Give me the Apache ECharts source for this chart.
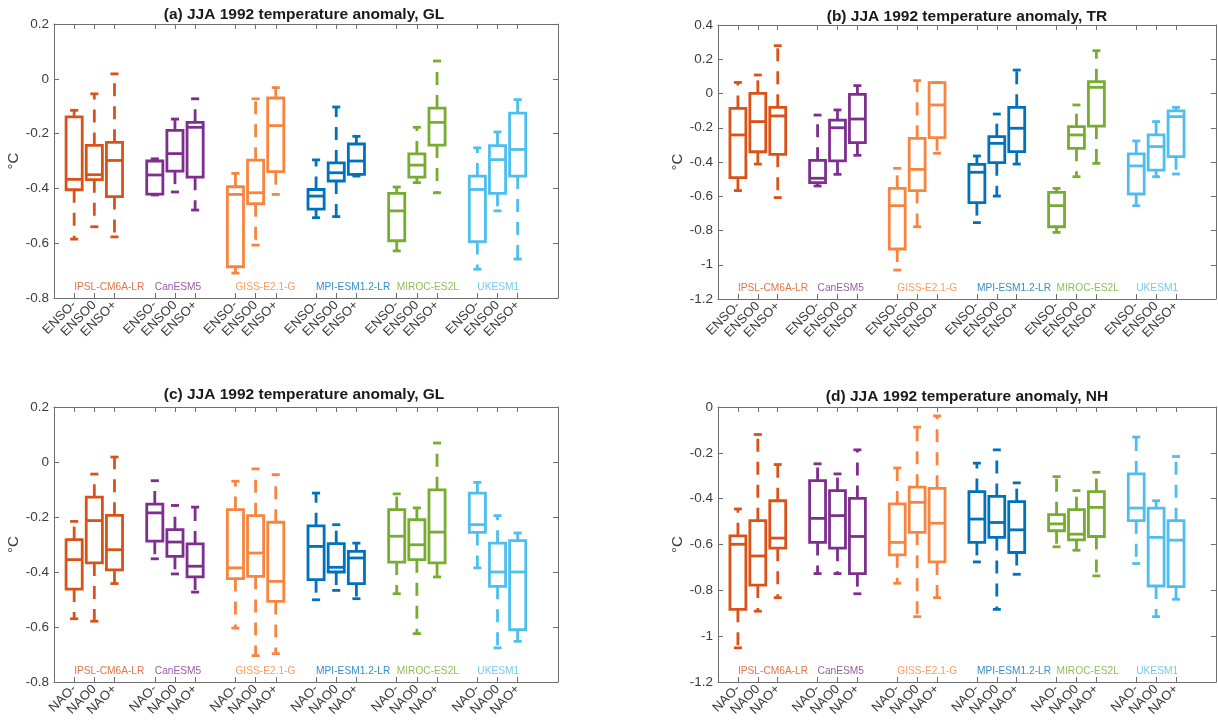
<!DOCTYPE html>
<html>
<head>
<meta charset="utf-8">
<script src="https://cdn.jsdelivr.net/npm/echarts@6/dist/echarts.min.js"></script>
<style>
html,body{margin:0;padding:0;background:#fff;}
#chart{width:1218px;height:723px;}
</style>
</head>
<body>
<div id="chart"></div>
<script>
// ---------------- DATA ----------------
const models = ['IPSL-CM6A-LR', 'CanESM5', 'GISS-E2.1-G', 'MPI-ESM1.2-LR', 'MIROC-ES2L', 'UKESM1'];
const modelColors = ['#D95319', '#7E2F8E', '#F7853F', '#0072BD', '#77AC30', '#4DBEEE'];
const ensoCats = ['ENSO-', 'ENSO0', 'ENSO+'];
const naoCats = ['NAO-', 'NAO0', 'NAO+'];
const panelTitles = [
  '(a) JJA 1992 temperature anomaly, GL',
  '(b) JJA 1992 temperature anomaly, TR',
  '(c) JJA 1992 temperature anomaly, GL',
  '(d) JJA 1992 temperature anomaly, NH'
];
const yTicksA = [-0.8, 0.2];
const yTicksB = [-1.2, 0.4];
const yTicksC = [-0.8, 0.2];
const yTicksD = [-1.2, 0];
// each box: [lower whisker, q1, median, q3, upper whisker]; 3 boxes per model in model order
const boxesA = [
  [-0.585, -0.405, -0.367, -0.139, -0.115], [-0.540, -0.368, -0.350, -0.243, -0.055], [-0.577, -0.430, -0.298, -0.232, 0.018],
  [-0.424, -0.421, -0.351, -0.300, -0.292], [-0.413, -0.337, -0.273, -0.188, -0.147], [-0.479, -0.359, -0.177, -0.159, -0.073],
  [-0.709, -0.686, -0.422, -0.394, -0.345], [-0.607, -0.456, -0.416, -0.297, -0.073], [-0.422, -0.339, -0.171, -0.070, -0.032],
  [-0.507, -0.476, -0.428, -0.404, -0.296], [-0.503, -0.373, -0.343, -0.307, -0.103], [-0.355, -0.349, -0.300, -0.238, -0.210],
  [-0.628, -0.591, -0.482, -0.418, -0.395], [-0.379, -0.359, -0.315, -0.274, -0.177], [-0.416, -0.242, -0.159, -0.107, 0.065],
  [-0.695, -0.594, -0.404, -0.355, -0.252], [-0.482, -0.418, -0.295, -0.244, -0.194], [-0.658, -0.355, -0.258, -0.125, -0.076]
];
const boxesB = [
  [-0.567, -0.491, -0.242, -0.087, 0.065], [-0.412, -0.340, -0.164, 0.001, 0.108], [-0.608, -0.355, -0.131, -0.081, 0.279],
  [-0.540, -0.520, -0.495, -0.390, -0.126], [-0.472, -0.394, -0.200, -0.155, -0.096], [-0.361, -0.287, -0.149, -0.005, 0.046],
  [-1.031, -0.908, -0.655, -0.554, -0.437], [-0.778, -0.567, -0.443, -0.262, 0.075], [-0.349, -0.258, -0.067, 0.063, 0.065],
  [-0.754, -0.637, -0.460, -0.414, -0.365], [-0.599, -0.404, -0.291, -0.252, -0.120], [-0.412, -0.340, -0.203, -0.081, 0.137],
  [-0.811, -0.778, -0.655, -0.577, -0.554], [-0.486, -0.320, -0.242, -0.194, -0.067], [-0.408, -0.190, 0.036, 0.069, 0.250],
  [-0.655, -0.587, -0.423, -0.353, -0.277], [-0.486, -0.447, -0.310, -0.242, -0.164], [-0.470, -0.369, -0.135, -0.102, -0.081]
];
const boxesC = [
  [-0.570, -0.462, -0.355, -0.282, -0.216], [-0.579, -0.367, -0.213, -0.128, -0.044], [-0.442, -0.392, -0.319, -0.194, 0.018],
  [-0.352, -0.288, -0.185, -0.153, -0.068], [-0.407, -0.343, -0.291, -0.246, -0.158], [-0.473, -0.418, -0.379, -0.298, -0.164],
  [-0.604, -0.424, -0.385, -0.173, -0.070], [-0.704, -0.416, -0.331, -0.195, -0.025], [-0.697, -0.507, -0.434, -0.219, -0.046],
  [-0.501, -0.428, -0.307, -0.232, -0.113], [-0.467, -0.400, -0.383, -0.297, -0.228], [-0.497, -0.442, -0.349, -0.325, -0.295],
  [-0.479, -0.364, -0.270, -0.173, -0.116], [-0.624, -0.355, -0.301, -0.210, -0.167], [-0.418, -0.367, -0.255, -0.101, 0.069],
  [-0.385, -0.256, -0.228, -0.113, -0.074], [-0.676, -0.452, -0.400, -0.295, -0.195], [-0.652, -0.610, -0.400, -0.286, -0.258]
];
const boxesD = [
  [-1.051, -0.883, -0.599, -0.562, -0.445], [-0.891, -0.777, -0.650, -0.496, -0.120], [-0.832, -0.616, -0.572, -0.409, -0.251],
  [-0.727, -0.591, -0.486, -0.321, -0.248], [-0.727, -0.616, -0.474, -0.365, -0.292], [-0.815, -0.727, -0.565, -0.399, -0.187],
  [-0.769, -0.645, -0.591, -0.423, -0.266], [-0.915, -0.547, -0.416, -0.350, -0.088], [-0.832, -0.676, -0.507, -0.355, -0.039],
  [-0.676, -0.591, -0.489, -0.369, -0.245], [-0.883, -0.569, -0.504, -0.390, -0.187], [-0.730, -0.635, -0.536, -0.413, -0.331],
  [-0.610, -0.540, -0.510, -0.470, -0.304], [-0.625, -0.580, -0.555, -0.448, -0.365], [-0.737, -0.565, -0.438, -0.369, -0.285],
  [-0.683, -0.496, -0.441, -0.292, -0.131], [-0.915, -0.781, -0.569, -0.441, -0.409], [-0.839, -0.784, -0.581, -0.496, -0.216]
];

// ---------------- LAYOUT / STYLE ----------------
const grids = [
  {left: 54, top: 24, width: 504, height: 274},
  {left: 718, top: 25, width: 504, height: 274},
  {left: 54, top: 407, width: 504, height: 275},
  {left: 718, top: 407, width: 504, height: 275}
];
const titleCenters = [304, 967, 304, 967];
const titleTops = [2, 4, 382, 384];
const yNameGaps = [21, 26, 20, 26];
const modelLabelFrac = 0.04; // model name placed this fraction of the y-range above the bottom
const axisColor = '#6e6e6e';
const textColor = '#3c3c3c';
const FONT = 'Liberation Sans, Arial, Helvetica, sans-serif';

function buildCategories(cats) {
  const out = [''];
  models.forEach(() => { cats.forEach(c => out.push(c)); out.push(''); });
  out.push('');
  return out; // 26 slots
}
function boxIndex(k) { // k-th box (0..17) -> category slot
  const g = Math.floor(k / 3), j = k % 3;
  return 1 + 4 * g + j;
}

function renderBox(params, api) {
  const xi = api.value(0);
  const lo = api.value(1), q1 = api.value(2), med = api.value(3), q3 = api.value(4), hi = api.value(5);
  const color = modelColors[api.value(6)];
  const bw = api.size([1, 0])[0];
  const cx = api.coord([xi, med])[0];
  const y = v => api.coord([xi, v])[1];
  const hw = bw * 0.4, cw = bw * 0.2, lw = 2.8;
  const solid = {stroke: color, lineWidth: lw, fill: null};
  const dashed = {stroke: color, lineWidth: lw, lineDash: [13, 10], fill: null};
  const children = [];
  if (hi > q3) children.push({type: 'line', shape: {x1: cx, y1: y(q3), x2: cx, y2: y(hi)}, style: dashed});
  if (lo < q1) children.push({type: 'line', shape: {x1: cx, y1: y(q1), x2: cx, y2: y(lo)}, style: dashed});
  children.push({type: 'line', shape: {x1: cx - cw, y1: y(hi), x2: cx + cw, y2: y(hi)}, style: solid});
  children.push({type: 'line', shape: {x1: cx - cw, y1: y(lo), x2: cx + cw, y2: y(lo)}, style: solid});
  children.push({type: 'rect', shape: {x: cx - hw, y: y(q3), width: 2 * hw, height: y(q1) - y(q3)},
    style: {stroke: color, lineWidth: lw, fill: 'rgba(0,0,0,0)'}});
  children.push({type: 'line', shape: {x1: cx - hw, y1: y(med), x2: cx + hw, y2: y(med)}, style: solid});
  return {type: 'group', children: children};
}

const panels = [
  {boxes: boxesA, cats: ensoCats, yr: yTicksA},
  {boxes: boxesB, cats: ensoCats, yr: yTicksB},
  {boxes: boxesC, cats: naoCats, yr: yTicksC},
  {boxes: boxesD, cats: naoCats, yr: yTicksD}
];

const option = {
  animation: false,
  backgroundColor: '#fff',
  textStyle: {fontFamily: FONT},
  title: [], grid: [], xAxis: [], yAxis: [], series: []
};

panels.forEach((p, i) => {
  const g = grids[i];
  option.grid.push(Object.assign({containLabel: false}, g));
  option.title.push({
    text: panelTitles[i], left: titleCenters[i] - 5, top: titleTops[i], textAlign: 'center',
    textStyle: {fontFamily: FONT, fontSize: 15.5, fontWeight: 'bold', color: '#1a1a1a'}
  });
  const cats = buildCategories(p.cats);
  const tickFn = (idx, val) => val !== '';
  const xCommon = {
    type: 'category', gridIndex: i, data: cats, boundaryGap: false,
    axisLine: {show: true, onZero: false, lineStyle: {color: axisColor, width: 1}},
    axisTick: {show: true, inside: true, length: 5, interval: tickFn, lineStyle: {color: axisColor}},
    splitLine: {show: false}
  };
  option.xAxis.push(Object.assign({}, xCommon, {
    position: 'bottom',
    axisLabel: {show: true, rotate: 45, interval: 0, fontSize: 13, color: textColor, margin: 5, fontFamily: FONT}
  }));
  option.xAxis.push(Object.assign({}, xCommon, {position: 'top', axisLabel: {show: false}}));
  const yCommon = {
    type: 'value', gridIndex: i, min: p.yr[0], max: p.yr[1], interval: 0.2,
    axisLine: {show: true, onZero: false, lineStyle: {color: axisColor, width: 1}},
    axisTick: {show: true, inside: true, length: 5, lineStyle: {color: axisColor}},
    splitLine: {show: false}
  };
  option.yAxis.push(Object.assign({}, yCommon, {
    position: 'left',
    name: '°C', nameLocation: 'middle', nameGap: yNameGaps[i], nameRotate: 90,
    nameTextStyle: {fontSize: 15, color: textColor, fontFamily: FONT},
    axisLabel: {show: true, fontSize: 13.5, color: textColor, margin: 5, fontFamily: FONT}
  }));
  option.yAxis.push(Object.assign({}, yCommon, {position: 'right', axisLabel: {show: false}}));

  option.series.push({
    type: 'custom', xAxisIndex: 2 * i, yAxisIndex: 2 * i,
    renderItem: renderBox,
    encode: {x: 0, y: [1, 2, 3, 4, 5]},
    data: p.boxes.map((b, k) => [boxIndex(k), b[0], b[1], b[2], b[3], b[4], Math.floor(k / 3)]),
    z: 3
  });
  const labelY = p.yr[0] + modelLabelFrac * (p.yr[1] - p.yr[0]);
  option.series.push({
    type: 'scatter', xAxisIndex: 2 * i, yAxisIndex: 2 * i, symbolSize: 0, silent: true,
    data: models.map((m, g2) => ({
      value: [boxIndex(3 * g2), labelY], name: m,
      label: {show: true, position: 'right', distance: 0, formatter: m,
        color: modelColors[g2], fontSize: 10.2, fontFamily: FONT}
    })),
    z: 4
  });
});

const chart = echarts.init(document.getElementById('chart'), null, {renderer: 'canvas'});
chart.setOption(option);
</script>
</body>
</html>
